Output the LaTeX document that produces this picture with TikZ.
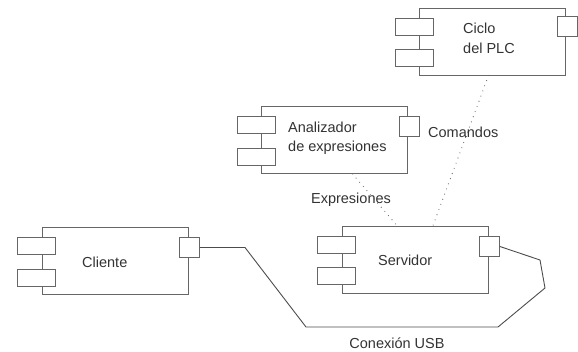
\documentclass[tikz,border=0pt]{standalone}
\usepackage{fontspec}
\setmainfont{Liberation Sans}
\usetikzlibrary{calc}

\begin{document}
\begin{tikzpicture}[x=1pt, y=-1pt,
    cuerpo/.style={draw=black!60, fill=white, rectangle, line width=0.9pt, minimum width=146pt, minimum height=67pt, inner sep=0pt},
    pestana/.style={draw=black!60, fill=white, rectangle, line width=0.9pt, minimum width=38pt, minimum height=17pt, inner sep=0pt},
    puerto/.style={draw=black!60, fill=white, rectangle, line width=0.9pt, minimum width=20pt, minimum height=20pt, inner sep=0pt},
    etiqueta/.style={text=black!80, font=\fontsize{14.5}{19}\selectfont, align=left, inner sep=0pt},
    enlace/.style={draw=black!70, line width=0.9pt},
    punteado/.style={draw=black!60, line width=1.1pt, line cap=round, dash pattern=on 0pt off 5.5pt}]
    \useasboundingbox (0,0) rectangle (578,351);

    % Componentes
    \node (cliente) [cuerpo] at (115,261) {};
    \node (servidor) [cuerpo] at (415,259.5) {};
    \node (analizador) [cuerpo] at (334.5,140) {};
    \node (ciclo) [cuerpo] at (492.5,41.5) {};

    % Pestanas a la izquierda de cada componente
    \node (clientePes1) [pestana] at ([xshift=-5pt, yshift=15pt]cliente.west) {};
    \node (clientePes2) [pestana] at ([xshift=-5pt, yshift=-16.5pt]cliente.west) {};
    \node (servidorPes1) [pestana] at ([xshift=-5pt, yshift=15pt]servidor.west) {};
    \node (servidorPes2) [pestana] at ([xshift=-5pt, yshift=-16.5pt]servidor.west) {};
    \node (analizadorPes1) [pestana] at ([xshift=-5pt, yshift=15pt]analizador.west) {};
    \node (analizadorPes2) [pestana] at ([xshift=-5pt, yshift=-16.5pt]analizador.west) {};
    \node (cicloPes1) [pestana] at ([xshift=-5pt, yshift=15pt]ciclo.west) {};
    \node (cicloPes2) [pestana] at ([xshift=-5pt, yshift=-16.5pt]ciclo.west) {};

    % Puertos a la derecha
    \node (clientePuerto) [puerto] at ([xshift=1pt, yshift=13.5pt]cliente.east) {};
    \node (servidorPuerto) [puerto] at ([xshift=1pt, yshift=13pt]servidor.east) {};
    \node (analizadorPuerto) [puerto] at ([xshift=1.5pt, yshift=13.5pt]analizador.east) {};
    \node (cicloPuerto) [puerto] at ([xshift=1pt, yshift=15pt]ciclo.east) {};

    % Nombres
    \node (txtCliente) [etiqueta, anchor=west] at (82,262) {Cliente};
    \node (txtServidor) [etiqueta, anchor=west] at (378,260) {Servidor};
    \node (txtAnalizador) [etiqueta, anchor=west] at (288,138.5) {Analizador\\de expresiones};
    \node (txtCiclo) [etiqueta, anchor=west, font=\fontsize{14.5}{20}\selectfont] at (463,38) {Ciclo\\del PLC};

    % Conexiones
    \draw[enlace] (clientePuerto.east) -- (245,247.5) -- (306,327) -- (498,327)
        -- (545,288) -- (540,260) -- (servidorPuerto.east);
    \draw[punteado] ([xshift=18pt]analizador.south) -- ([xshift=-18pt]servidor.north);
    \draw[punteado] ([xshift=-4pt]ciclo.south) -- ([xshift=18pt]servidor.north);

    \node (txtUsb) [etiqueta] at (397,343) {Conexión USB};
    \node (txtExpr) [etiqueta] at (351,200) {Expresiones};
    \node (txtCmd) [etiqueta, anchor=west] at (428,132) {Comandos};
\end{tikzpicture}
\end{document}
